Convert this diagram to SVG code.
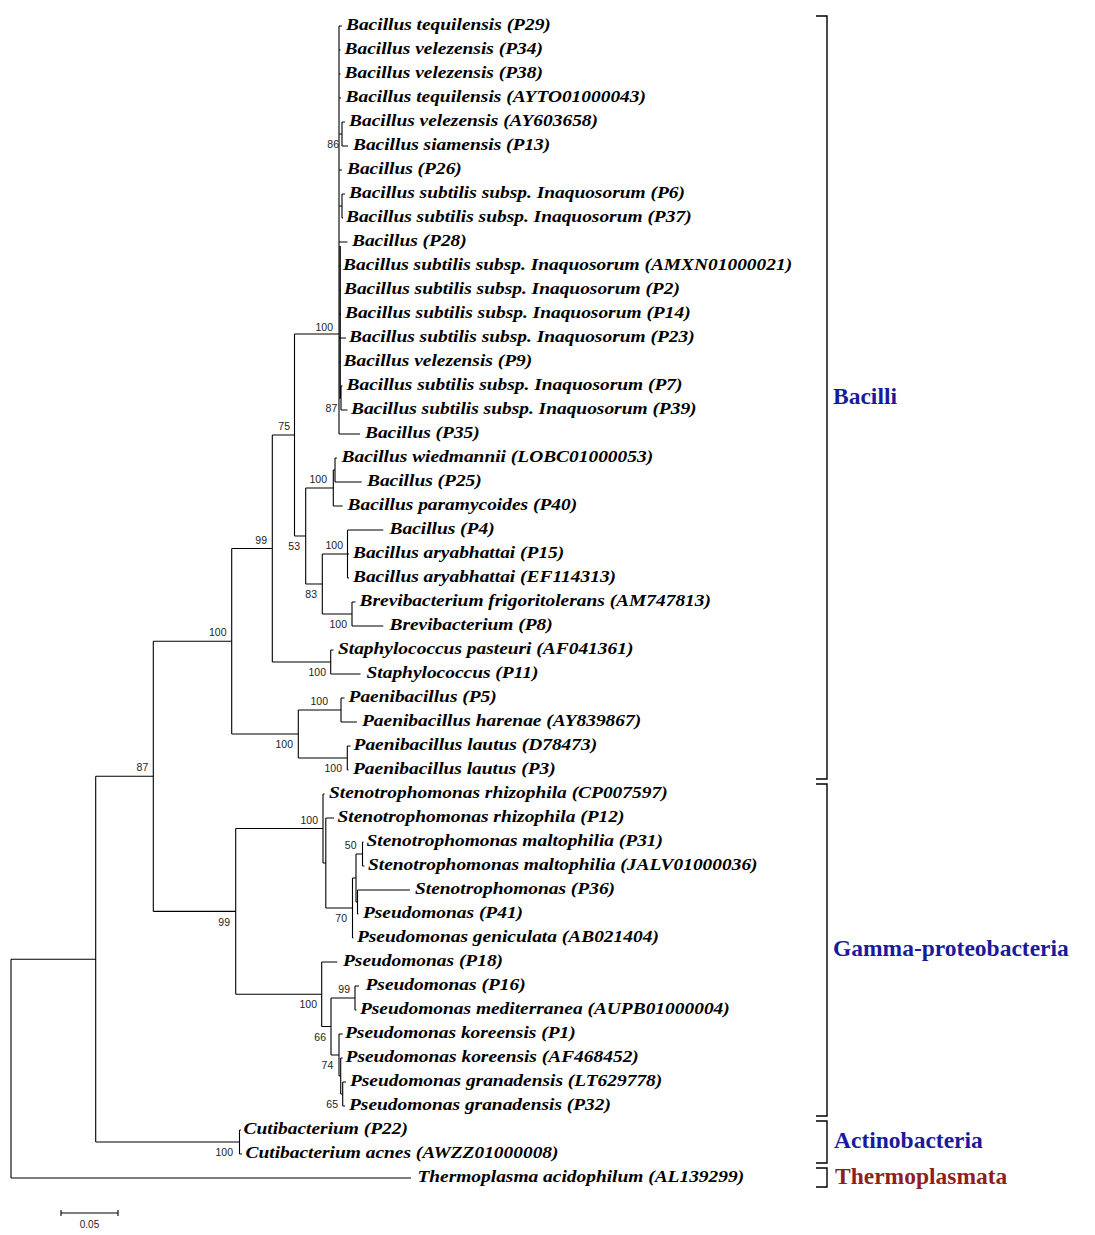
<svg xmlns="http://www.w3.org/2000/svg" width="1095" height="1235" viewBox="0 0 1095 1235">
<style>
.e{fill:none;stroke:#000;stroke-width:1.1}
.lf{font-family:"Liberation Serif","Times New Roman",serif;font-weight:bold;font-style:italic;font-size:17.5px;fill:#000}
.bs{font-family:"Liberation Sans",Arial,sans-serif;font-size:10.5px;fill:#222;text-anchor:end}
.cl{font-family:"Liberation Serif","Times New Roman",serif;font-weight:bold;font-size:23.5px}
.br{fill:none;stroke:#000;stroke-width:1.4}
</style>
<rect width="1095" height="1235" fill="#fff"/>
<g id="connectors">
<path class="e" d="M11 959.2V1178M11 959.2H95.7M11 1178H411"/>
<path class="e" d="M95.7 776.3V1142M95.7 776.3H153.3M95.7 1142H239.5"/>
<path class="e" d="M239.5 1130V1154M239.5 1130H241M239.5 1154H242"/>
<path class="e" d="M153.3 641.3V911.4M153.3 641.3H231.7M153.3 911.4H235.7"/>
<path class="e" d="M231.7 548.5V734M231.7 548.5H272.3M231.7 734H298.3"/>
<path class="e" d="M272.3 435V662M272.3 435H294.5M272.3 662H330.7"/>
<path class="e" d="M294.5 334V536M294.5 334H339M294.5 536H305.7"/>
<path class="e" d="M339 26V434M339 26H342M339 50H340.5M339 74H340.5M339 98H341M339 134H342M342 122V146M342 122H345M342 146H348M339 170H342M339 206H342M342 194V218M342 194H345M342 218H343M339 242H347.5M339 266H340M339 290H340.5M339 314H341M339 338H346M339 362H340M340.3 246V398M339 398H341M341 386V410M341 386H342.5M341 410H347.5M339 434H360"/>
<path class="e" d="M305.7 488V584M305.7 488H333.3M305.7 584H322.3"/>
<path class="e" d="M333.3 470V506M333.3 470H335M333.3 506H342.7"/>
<path class="e" d="M335 458V482M335 458H337M335 482H361.7"/>
<path class="e" d="M322.3 554V614M322.3 554H347.5M322.3 614H352"/>
<path class="e" d="M347.5 530V578M347.5 530H383.3M347.5 554H349M347.5 578H349"/>
<path class="e" d="M352 602V626M352 602H355.5M352 626H383.3"/>
<path class="e" d="M330.7 650V674M330.7 650H333.5M330.7 674H360.5"/>
<path class="e" d="M298.3 710V758M298.3 710H341M298.3 758H347.3"/>
<path class="e" d="M341 698V722M341 698H344.5M341 722H357"/>
<path class="e" d="M347.3 746V770M347.3 746H350.5M347.3 770H348.5"/>
<path class="e" d="M235.7 828.5V994.3M235.7 828.5H323M235.7 994.3H321.7"/>
<path class="e" d="M323 794V863M323 794H324.5M323 863H325.8"/>
<path class="e" d="M325.8 818V908M325.8 818H334M325.8 908H352.5"/>
<path class="e" d="M352.5 878V938M352.5 878H356M352.5 938H353.5"/>
<path class="e" d="M356 854V902M356 854H362.5M356 902H357.5"/>
<path class="e" d="M362.5 842V866M362.5 842H363.5M362.5 866H364.5"/>
<path class="e" d="M357.5 890V914M357.5 890H410M357.5 914H358.5"/>
<path class="e" d="M321.7 962V1026.5M321.7 962H337.3M321.7 1026.5H331"/>
<path class="e" d="M331 998V1055M331 998H355M331 1055H339"/>
<path class="e" d="M355 986V1010M355 986H359M355 1010H356.5"/>
<path class="e" d="M339 1034V1076M339 1034H342.7M339 1076H340.7"/>
<path class="e" d="M340.7 1058V1094M340.7 1058H342.7M340.7 1094H342.7"/>
<path class="e" d="M342.7 1082V1106M342.7 1082H346M342.7 1106H345"/>
</g>
<g id="bootstrap">
<text class="bs" x="148.3" y="771">87</text>
<text class="bs" x="226.5" y="636">100</text>
<text class="bs" x="267" y="543.5">99</text>
<text class="bs" x="290" y="430">75</text>
<text class="bs" x="333" y="331">100</text>
<text class="bs" x="339" y="148">86</text>
<text class="bs" x="337.3" y="412">87</text>
<text class="bs" x="300" y="550">53</text>
<text class="bs" x="327" y="483">100</text>
<text class="bs" x="317" y="598">83</text>
<text class="bs" x="343" y="549">100</text>
<text class="bs" x="347" y="628">100</text>
<text class="bs" x="326" y="676">100</text>
<text class="bs" x="293" y="748">100</text>
<text class="bs" x="328" y="705">100</text>
<text class="bs" x="342" y="772">100</text>
<text class="bs" x="230" y="925.5">99</text>
<text class="bs" x="318" y="823.5">100</text>
<text class="bs" x="356.5" y="849">50</text>
<text class="bs" x="347" y="922">70</text>
<text class="bs" x="317" y="1008">100</text>
<text class="bs" x="350" y="993">99</text>
<text class="bs" x="326" y="1040.5">66</text>
<text class="bs" x="333.3" y="1069">74</text>
<text class="bs" x="338" y="1108">65</text>
<text class="bs" x="233" y="1156">100</text>
</g>
<g id="leaves">
<g id="L00"><text class="lf" transform="scale(1.11 1)" x="311.7" y="30.5">Bacillus tequilensis (P29)</text></g>
<g id="L01"><text class="lf" transform="scale(1.11 1)" x="310.4" y="54.5">Bacillus velezensis (P34)</text></g>
<g id="L02"><text class="lf" transform="scale(1.11 1)" x="310.4" y="78.5">Bacillus velezensis (P38)</text></g>
<g id="L03"><text class="lf" transform="scale(1.11 1)" x="311.3" y="102.5">Bacillus tequilensis (AYTO01000043)</text></g>
<g id="L04"><text class="lf" transform="scale(1.11 1)" x="314.4" y="126.5">Bacillus velezensis (AY603658)</text></g>
<g id="L05"><text class="lf" transform="scale(1.11 1)" x="318" y="150.5">Bacillus siamensis (P13)</text></g>
<g id="L06"><text class="lf" transform="scale(1.11 1)" x="312.6" y="174.5">Bacillus (P26)</text></g>
<g id="L07"><text class="lf" transform="scale(1.11 1)" x="314.4" y="198.5">Bacillus subtilis subsp. Inaquosorum (P6)</text></g>
<g id="L08"><text class="lf" transform="scale(1.11 1)" x="311.7" y="222.5">Bacillus subtilis subsp. Inaquosorum (P37)</text></g>
<g id="L09"><text class="lf" transform="scale(1.11 1)" x="317.1" y="246.5">Bacillus (P28)</text></g>
<g id="L10"><text class="lf" transform="scale(1.11 1)" x="309" y="270.5">Bacillus subtilis subsp. Inaquosorum (AMXN01000021)</text></g>
<g id="L11"><text class="lf" transform="scale(1.11 1)" x="309.9" y="294.5">Bacillus subtilis subsp. Inaquosorum (P2)</text></g>
<g id="L12"><text class="lf" transform="scale(1.11 1)" x="310.8" y="318.5">Bacillus subtilis subsp. Inaquosorum (P14)</text></g>
<g id="L13"><text class="lf" transform="scale(1.11 1)" x="314.4" y="342.5">Bacillus subtilis subsp. Inaquosorum (P23)</text></g>
<g id="L14"><text class="lf" transform="scale(1.11 1)" x="309.5" y="366.5">Bacillus velezensis (P9)</text></g>
<g id="L15"><text class="lf" transform="scale(1.11 1)" x="312.2" y="390.5">Bacillus subtilis subsp. Inaquosorum (P7)</text></g>
<g id="L16"><text class="lf" transform="scale(1.11 1)" x="316.2" y="414.5">Bacillus subtilis subsp. Inaquosorum (P39)</text></g>
<g id="L17"><text class="lf" transform="scale(1.11 1)" x="328.8" y="438.5">Bacillus (P35)</text></g>
<g id="L18"><text class="lf" transform="scale(1.11 1)" x="307.7" y="462.5">Bacillus wiedmannii (LOBC01000053)</text></g>
<g id="L19"><text class="lf" transform="scale(1.11 1)" x="330.6" y="486.5">Bacillus (P25)</text></g>
<g id="L20"><text class="lf" transform="scale(1.11 1)" x="313.1" y="510.5">Bacillus paramycoides (P40)</text></g>
<g id="L21"><text class="lf" transform="scale(1.11 1)" x="350.9" y="534.5">Bacillus (P4)</text></g>
<g id="L22"><text class="lf" transform="scale(1.11 1)" x="318" y="558.5">Bacillus aryabhattai (P15)</text></g>
<g id="L23"><text class="lf" transform="scale(1.11 1)" x="318" y="582.5">Bacillus aryabhattai (EF114313)</text></g>
<g id="L24"><text class="lf" transform="scale(1.11 1)" x="323.9" y="606.5">Brevibacterium frigoritolerans (AM747813)</text></g>
<g id="L25"><text class="lf" transform="scale(1.11 1)" x="350.9" y="630.5">Brevibacterium (P8)</text></g>
<g id="L26"><text class="lf" transform="scale(1.11 1)" x="304.5" y="654.5">Staphylococcus pasteuri (AF041361)</text></g>
<g id="L27"><text class="lf" transform="scale(1.11 1)" x="330.2" y="678.5">Staphylococcus (P11)</text></g>
<g id="L28"><text class="lf" transform="scale(1.11 1)" x="314" y="702.5">Paenibacillus (P5)</text></g>
<g id="L29"><text class="lf" transform="scale(1.11 1)" x="326.1" y="726.5">Paenibacillus harenae (AY839867)</text></g>
<g id="L30"><text class="lf" transform="scale(1.11 1)" x="318.5" y="750.5">Paenibacillus lautus (D78473)</text></g>
<g id="L31"><text class="lf" transform="scale(1.11 1)" x="318" y="774.5">Paenibacillus lautus (P3)</text></g>
<g id="L32"><text class="lf" transform="scale(1.11 1)" x="296.4" y="798.5">Stenotrophomonas rhizophila (CP007597)</text></g>
<g id="L33"><text class="lf" transform="scale(1.11 1)" x="304.1" y="822.5">Stenotrophomonas rhizophila (P12)</text></g>
<g id="L34"><text class="lf" transform="scale(1.11 1)" x="330.2" y="846.5">Stenotrophomonas maltophilia (P31)</text></g>
<g id="L35"><text class="lf" transform="scale(1.11 1)" x="331.5" y="870.5">Stenotrophomonas maltophilia (JALV01000036)</text></g>
<g id="L36"><text class="lf" transform="scale(1.11 1)" x="373.9" y="894.5">Stenotrophomonas (P36)</text></g>
<g id="L37"><text class="lf" transform="scale(1.11 1)" x="327" y="918.5">Pseudomonas (P41)</text></g>
<g id="L38"><text class="lf" transform="scale(1.11 1)" x="321.6" y="942.5">Pseudomonas geniculata (AB021404)</text></g>
<g id="L39"><text class="lf" transform="scale(1.11 1)" x="309" y="966.5">Pseudomonas (P18)</text></g>
<g id="L40"><text class="lf" transform="scale(1.11 1)" x="329.3" y="990.5">Pseudomonas (P16)</text></g>
<g id="L41"><text class="lf" transform="scale(1.11 1)" x="324.3" y="1014.5">Pseudomonas mediterranea (AUPB01000004)</text></g>
<g id="L42"><text class="lf" transform="scale(1.11 1)" x="310.8" y="1038.5">Pseudomonas koreensis (P1)</text></g>
<g id="L43"><text class="lf" transform="scale(1.11 1)" x="311.3" y="1062.5">Pseudomonas koreensis (AF468452)</text></g>
<g id="L44"><text class="lf" transform="scale(1.11 1)" x="315.3" y="1086.5">Pseudomonas granadensis (LT629778)</text></g>
<g id="L45"><text class="lf" transform="scale(1.11 1)" x="314.4" y="1110.5">Pseudomonas granadensis (P32)</text></g>
<g id="L46"><text class="lf" transform="scale(1.11 1)" x="219.4" y="1134.5">Cutibacterium (P22)</text></g>
<g id="L47"><text class="lf" transform="scale(1.11 1)" x="221.2" y="1158.5">Cutibacterium acnes (AWZZ01000008)</text></g>
<g id="L48"><text class="lf" transform="scale(1.11 1)" x="376.1" y="1182.5">Thermoplasma acidophilum (AL139299)</text></g>
</g>
<g id="clade-bacilli">
<path class="br" d="M816 16H827V779H816"/>
<text class="cl" x="833" y="404" fill="#1a1a9c">Bacilli</text>
</g>
<g id="clade-gamma">
<path class="br" d="M816 784H827V1116H816"/>
<text class="cl" x="833" y="956" fill="#1a1a9c">Gamma-proteobacteria</text>
</g>
<g id="clade-actino">
<path class="br" d="M816 1121H827V1163H816"/>
<text class="cl" x="834" y="1148" fill="#1a1a9c">Actinobacteria</text>
</g>
<g id="clade-thermo">
<path class="br" d="M816 1168H827V1187H816"/>
<text class="cl" x="835" y="1184" fill="#8e1f1f">Thermoplasmata</text>
</g>
<g id="scale-bar">
<path class="e" d="M61 1213H118M61 1210V1216M118 1210V1216"/>
<text x="89.5" y="1228" font-family="Liberation Sans, Arial, sans-serif" font-size="10" text-anchor="middle" fill="#222">0.05</text>
</g>
</svg>
